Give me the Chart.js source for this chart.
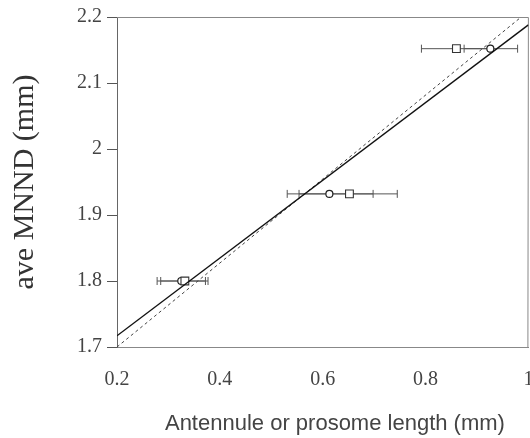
<!DOCTYPE html>
<html lang="en">
<head>
<meta charset="UTF-8">
<script src="https://cdn.jsdelivr.net/npm/chart.js"></script>
<title>ave MNND vs length</title>
<style>
  body { margin: 0; background: #fff; overflow: hidden; }
  #wrap { width: 535px; height: 438px; }
</style>
</head>
<body>
<div id="wrap"><canvas id="myChart" width="535" height="438"></canvas></div>
<script>
// y values shared by both series
const mnnd = [1.8, 1.932, 2.152];
// circles (antennule) with horizontal error bars
const antennuleX = [0.325, 0.613, 0.926];
const antennuleLo = [0.278, 0.531, 0.875];
const antennuleHi = [0.372, 0.698, 0.979];
// squares (prosome)
const prosomeX = [0.332, 0.652, 0.86];
const prosomeLo = [0.285, 0.554, 0.792];
const prosomeHi = [0.377, 0.745, 0.925];
// fitted lines
const fitSolidX = [0.2, 1.0];
const fitSolidY = [1.717, 2.188];
const fitDashX = [0.2, 0.986];
const fitDashY = [1.70, 2.2];

const xTicks = [0.2, 0.4, 0.6, 0.8, 1];
const xTickLabels = ['0.2', '0.4', '0.6', '0.8', '1'];
const yTicks = [1.7, 1.8, 1.9, 2.0, 2.1, 2.2];
const yTickLabels = ['1.7', '1.8', '1.9', '2', '2.1', '2.2'];

const pts = (xs, ys) => xs.map((x, i) => ({x: x, y: ys[i]}));
const serif = '"Liberation Serif", "Times New Roman", serif';

// horizontal error bars, drawn under the markers
const errorBars = {
  id: 'errorBars',
  beforeDatasetsDraw(chart) {
    const ctx = chart.ctx;
    const xs = chart.scales.x, ys = chart.scales.y;
    ctx.save();
    ctx.strokeStyle = '#555';
    ctx.lineWidth = 1;
    chart.data.datasets.forEach(ds => {
      if (!ds.errLo) return;
      ds.data.forEach((p, i) => {
        const y = ys.getPixelForValue(p.y);
        const a = xs.getPixelForValue(ds.errLo[i]);
        const b = xs.getPixelForValue(ds.errHi[i]);
        ctx.beginPath();
        ctx.moveTo(a, y); ctx.lineTo(b, y);
        ctx.moveTo(a, y - 4); ctx.lineTo(a, y + 4);
        ctx.moveTo(b, y - 4); ctx.lineTo(b, y + 4);
        ctx.stroke();
      });
    });
    ctx.restore();
  }
};

// top and right frame lines
const frame = {
  id: 'frame',
  beforeDatasetsDraw(chart) {
    const {ctx, chartArea: a} = chart;
    ctx.save();
    ctx.strokeStyle = '#888';
    ctx.lineWidth = 1;
    ctx.beginPath();
    ctx.moveTo(a.left, a.top + 0.5);
    ctx.lineTo(a.right, a.top + 0.5);
    ctx.lineTo(a.right - 0.5, a.bottom);
    ctx.stroke();
    ctx.restore();
  }
};

new Chart(document.getElementById('myChart'), {
  type: 'scatter',
  data: {
    datasets: [
      {
        data: pts(fitSolidX, fitSolidY),
        showLine: true, pointRadius: 0,
        borderColor: '#111', borderWidth: 1.4
      },
      {
        data: pts(fitDashX, fitDashY),
        showLine: true, pointRadius: 0,
        borderColor: '#444', borderWidth: 1, borderDash: [3, 3]
      },
      {
        data: pts(prosomeX, mnnd),
        errLo: prosomeLo, errHi: prosomeHi,
        pointStyle: 'rect', pointRadius: 5.5,
        pointBackgroundColor: '#fff', pointBorderColor: '#333', pointBorderWidth: 1.1
      },
      {
        data: pts(antennuleX, mnnd),
        errLo: antennuleLo, errHi: antennuleHi,
        pointStyle: 'circle', pointRadius: 3.5,
        pointBackgroundColor: '#fff', pointBorderColor: '#222', pointBorderWidth: 1.2
      }
    ]
  },
  options: {
    responsive: false,
    animation: false,
    layout: { padding: { top: 17, right: 0, left: 0, bottom: 0 } },
    plugins: { legend: { display: false }, tooltip: { enabled: false } },
    scales: {
      x: {
        type: 'linear', min: 0.2, max: 1,
        afterBuildTicks: ax => { ax.ticks = xTicks.map(v => ({value: v})); },
        afterFit: ax => { ax.height = 91; ax.paddingLeft = 0; ax.paddingRight = 0; },
        grid: { display: false },
        border: { display: true, color: '#888', width: 1 },
        ticks: {
          padding: 13, color: '#444',
          font: { family: serif, size: 20 },
          callback: (v, i) => xTickLabels[i]
        },
        title: {
          display: true, text: '    Antennule or prosome length (mm)',
          color: '#444', padding: { bottom: 1, top: 0 },
          font: { family: '"Liberation Sans", Arial, sans-serif', size: 22, weight: 'normal' }
        }
      },
      y: {
        type: 'linear', min: 1.7, max: 2.2,
        afterBuildTicks: ax => { ax.ticks = yTicks.map(v => ({value: v})); },
        afterFit: ax => { ax.width = 117; },
        grid: { drawOnChartArea: false, tickLength: 10, color: '#555' },
        border: { display: true, color: '#666', width: 1 },
        ticks: {
          padding: 5, color: '#444',
          font: { family: serif, size: 20 },
          callback: (v, i) => yTickLabels[i]
        },
        title: {
          display: true, text: 'ave MNND (mm)',
          color: '#333', padding: { top: 7, bottom: 0 },
          font: { family: serif, size: 30, weight: 'normal' }
        }
      }
    }
  },
  plugins: [frame, errorBars]
});
</script>
</body>
</html>
